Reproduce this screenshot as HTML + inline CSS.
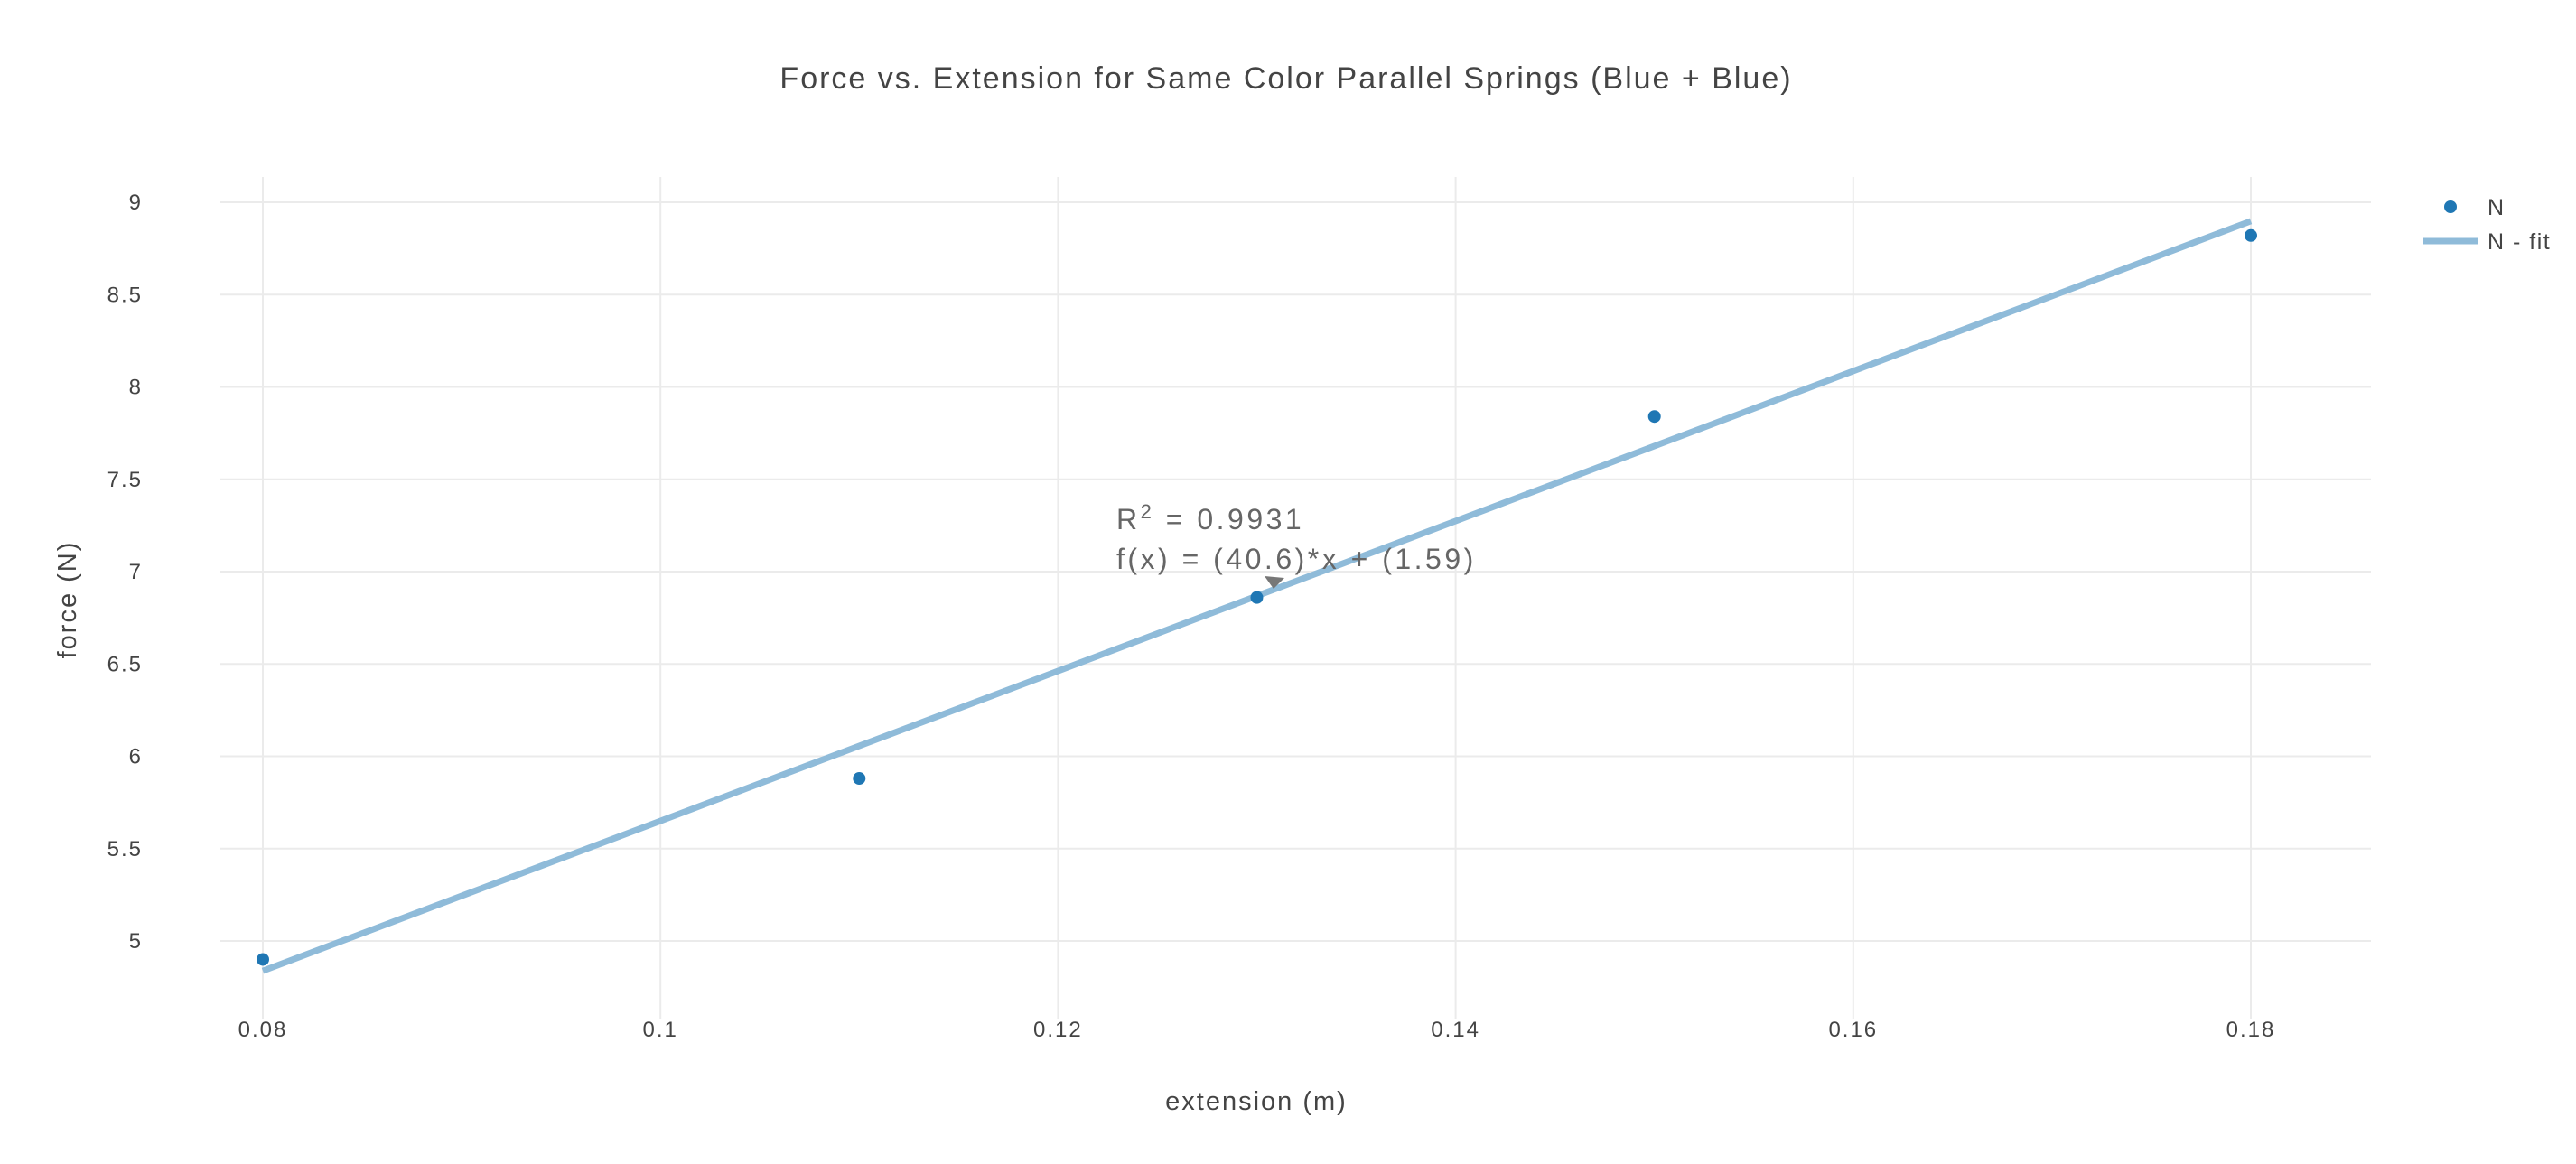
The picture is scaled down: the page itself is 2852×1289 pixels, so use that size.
<!DOCTYPE html>
<html><head><meta charset="utf-8"><style>
html,body{margin:0;padding:0;background:#fff;}
svg text{font-family:"Liberation Sans","DejaVu Sans",sans-serif;fill:#444;}
</style></head><body>
<svg id="chart" width="2852" height="1284" xmlns="http://www.w3.org/2000/svg">
<text x="1424" y="98" text-anchor="middle" font-size="34" letter-spacing="2">Force vs. Extension for Same Color Parallel Springs (Blue + Blue)</text>
<g id="grid"></g>
<g id="fit"></g>
<g id="pts"></g>
<g id="ticks"></g>
<text x="1391" y="1229" text-anchor="middle" font-size="29" letter-spacing="2">extension (m)</text>
<text transform="translate(84,664) rotate(-90)" text-anchor="middle" font-size="29" letter-spacing="2">force (N)</text>
<g>
<text x="1236" y="586" font-size="32" letter-spacing="3.5" style="fill:#666">R<tspan dy="-12" font-size="22">2</tspan><tspan dy="12"> = 0.9931</tspan></text>
<text x="1236" y="630" font-size="32" letter-spacing="3.5" style="fill:#666">f(x) = (40.6)*x + (1.59)</text>
<polygon points="1400,638 1422,640 1410,652" fill="#777"/>
</g>
<g>
<circle cx="2713" cy="229" r="7" fill="#1f77b4"/>
<text x="2754" y="238" font-size="25" letter-spacing="1.5">N</text>
<line x1="2683" y1="267" x2="2743" y2="267" stroke="#8fbbd9" stroke-width="7"/>
<text x="2754" y="276" font-size="25" letter-spacing="1.5">N - fit</text>
</g>
</svg>
<script>
const xData=[0.08,0.11,0.13,0.15,0.18];
const yData=[4.9,5.88,6.86,7.84,8.82];
const fitSlope=40.6;
const fitIntercept=1.59;
const xTicks=[0.08,0.1,0.12,0.14,0.16,0.18];
const xTickLabels=["0.08","0.1","0.12","0.14","0.16","0.18"];
const yTicks=[5,5.5,6,6.5,7,7.5,8,8.5,9];
const yTickLabels=["5","5.5","6","6.5","7","7.5","8","8.5","9"];
const NS="http://www.w3.org/2000/svg";
const L=244,R=2625,T=196,B=1128;
function sx(v){return 291+(v-0.08)/(0.1)*(2492-291);}
function sy(v){return 1042-(v-5)/4*(1042-224);}
function mk(tag,attrs,parent){const e=document.createElementNS(NS,tag);for(const k in attrs)e.setAttribute(k,attrs[k]);parent.appendChild(e);return e;}
const grid=document.getElementById('grid'),ticks=document.getElementById('ticks');
xTicks.forEach((v,i)=>{
 const g=mk('line',{x1:sx(v),x2:sx(v),y1:T,y2:B,stroke:'#ebebeb','stroke-width':2},grid);
 
 
 const t=mk('text',{x:sx(v),y:1148,'text-anchor':'middle','font-size':24,'letter-spacing':2},ticks);
 t.textContent=xTickLabels[i];
 
 
});
yTicks.forEach((v,i)=>{
 const g=mk('line',{x1:L,x2:R,y1:sy(v),y2:sy(v),stroke:'#ebebeb','stroke-width':2},grid);
 
 
 const t=mk('text',{x:158,y:sy(v)+8,'text-anchor':'end','font-size':24,'letter-spacing':2},ticks);
 t.textContent=yTickLabels[i];
 
 
});
const x0=xData[0],x1=xData[xData.length-1];
const fl=mk('line',{x1:sx(x0),y1:sy(fitSlope*x0+fitIntercept),x2:sx(x1),y2:sy(fitSlope*x1+fitIntercept),stroke:'#8fbbd9','stroke-width':7},document.getElementById('fit'));


const pts=document.getElementById('pts');
xData.forEach((x,i)=>{
 const c=mk('circle',{cx:sx(x),cy:sy(yData[i]),r:7,fill:'#1f77b4'},pts);
 
 
});
</script>
</body></html>
